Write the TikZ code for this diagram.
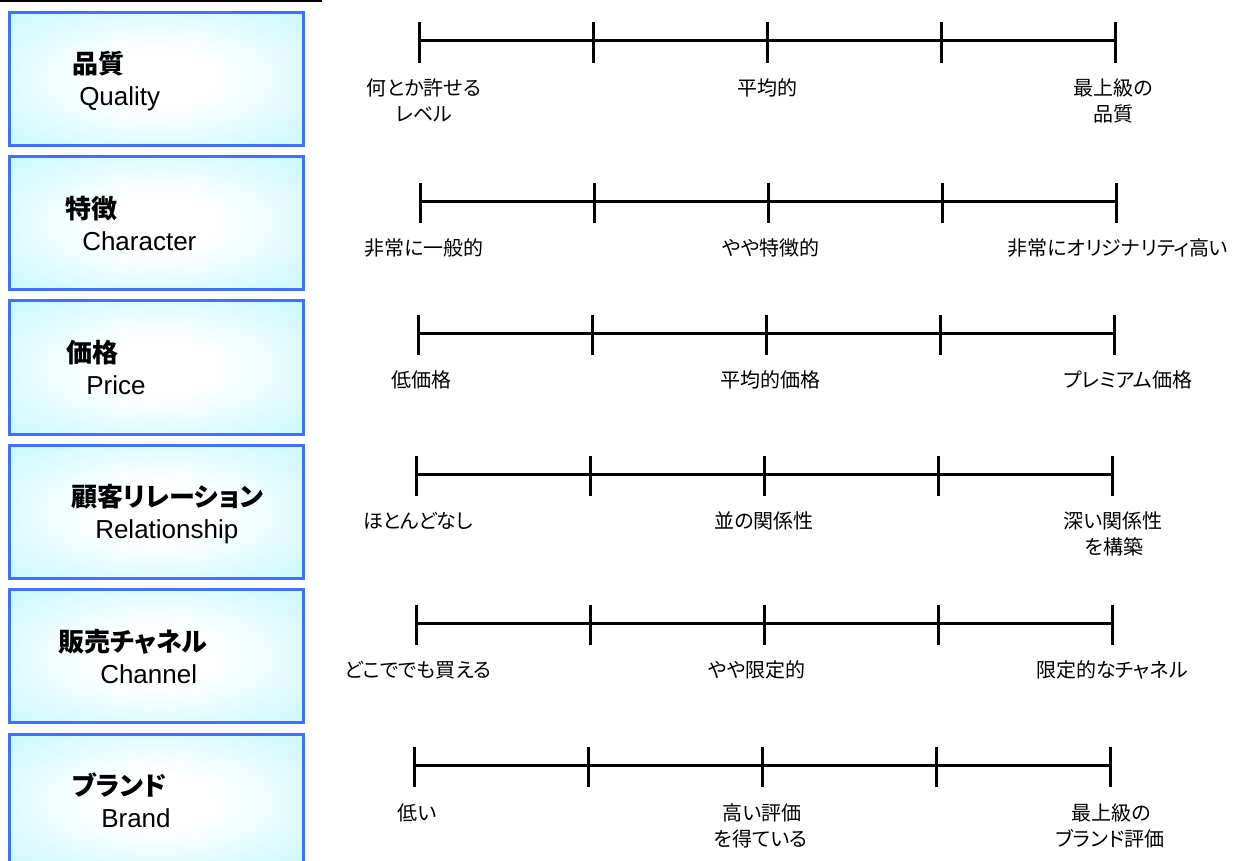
\documentclass[tikz,border=0pt]{standalone}
\usepackage{fontspec}
\setmainfont{Liberation Sans}
\newfontfamily\jp[RawFeature=+palt]{Noto Sans CJK JP}
\definecolor{boxblue}{RGB}{64,112,255}
\definecolor{boxcyan}{RGB}{196,248,252}
\pgfdeclareradialshading{boxshade}{\pgfpoint{0bp}{0bp}}{color(0bp)=(white); color(10bp)=(white); color(38bp)=(boxcyan); color(50bp)=(boxcyan)}
\tikzset{
  catbox/.style={draw=boxblue, line width=2.25pt, shading=boxshade, rectangle,
    minimum width=220.5pt, minimum height=100.1pt, inner sep=0pt},
  jptitle/.style={font=\jp\bfseries\fontsize{19.5}{23}\selectfont, anchor=base west, inner sep=0pt},
  entitle/.style={font=\fontsize{19.5}{23}\selectfont, anchor=base west, inner sep=0pt},
  lab/.style={font=\jp\fontsize{15}{18}\selectfont, anchor=base, inner sep=0pt},
  scaleline/.style={line width=2.25pt},
  tickmark/.style={line width=2.25pt},
  topline/.style={line width=1.5pt}
}
\begin{document}
\begin{tikzpicture}[x=0.75pt,y=-0.75pt]
\useasboundingbox (0,0) rectangle (1240,861);

% top rule
\coordinate (tl0) at (0,1);
\coordinate (tl1) at (322,1);
\draw[topline] (tl0) -- (tl1);

% category boxes
\node[catbox] (b1) at (156.5,78.75) {};
\node[catbox] (b2) at (156.5,223.05) {};
\node[catbox] (b3) at (156.5,367.45) {};
\node[catbox] (b4) at (156.5,511.75) {};
\node[catbox] (b5) at (156.5,656.25) {};
\node[catbox] (b6) at (156.5,800.75) {};

% titles
\node[jptitle] (t1j) at (72,73.75) {品質};
\node[entitle] (t1e) at (79,105.75) {Quality};
\node[jptitle] (t2j) at (65,218) {特徴};
\node[entitle] (t2e) at (82,250) {Character};
\node[jptitle] (t3j) at (66,362.5) {価格};
\node[entitle] (t3e) at (86,394.5) {Price};
\node[jptitle] (t4j) at (71,506.75) {顧客リレーション};
\node[entitle] (t4e) at (95,538.75) {Relationship};
\node[jptitle] (t5j) at (58,651.25) {販売チャネル};
\node[entitle] (t5e) at (100,683.25) {Channel};
\node[jptitle] (t6j) at (72,795.75) {ブランド};
\node[entitle] (t6e) at (101,827.75) {Brand};

% scales
\foreach \r/\x/\y in {1/419/40.5, 2/420/201, 3/418/333, 4/416.5/474, 5/416.5/623, 6/414/765} {
  \foreach \j in {0,...,4} {
    \coordinate (r\r t\j) at ({\x+174*\j},\y);
    \draw[tickmark] (r\r t\j) ++(0,-18.5) -- ++(0,40.5);
  }
  \draw[scaleline] (r\r t0) -- (r\r t4);
}

% labels row 1
\node[lab] (l1a) at (424,95) {何とか許せる};
\node[lab] (l1b) at (424,121) {レベル};
\node[lab] (m1) at (767,95) {平均的};
\node[lab] (h1a) at (1113,95) {最上級の};
\node[lab] (h1b) at (1113,121) {品質};
% row 2
\node[lab] (l2) at (424,255) {非常に一般的};
\node[lab] (m2) at (771,255) {やや特徴的};
\node[lab] (h2) at (1118,255) {非常にオリジナリティ高い};
% row 3
\node[lab] (l3) at (421,387) {低価格};
\node[lab] (m3) at (770,387) {平均的価格};
\node[lab] (h3) at (1128,387) {プレミアム価格};
% row 4
\node[lab] (l4) at (418,528) {ほとんどなし};
\node[lab] (m4) at (764,528) {並の関係性};
\node[lab] (h4a) at (1113,528) {深い関係性};
\node[lab] (h4b) at (1114,554) {を構築};
% row 5
\node[lab] (l5) at (418,677) {どこででも買える};
\node[lab] (m5) at (757,677) {やや限定的};
\node[lab] (h5) at (1112,677) {限定的なチャネル};
% row 6
\node[lab] (l6) at (417,820) {低い};
\node[lab] (m6a) at (762,820) {高い評価};
\node[lab] (m6b) at (761,846) {を得ている};
\node[lab] (h6a) at (1111,820) {最上級の};
\node[lab] (h6b) at (1110,846) {ブランド評価};
\end{tikzpicture}
\end{document}
